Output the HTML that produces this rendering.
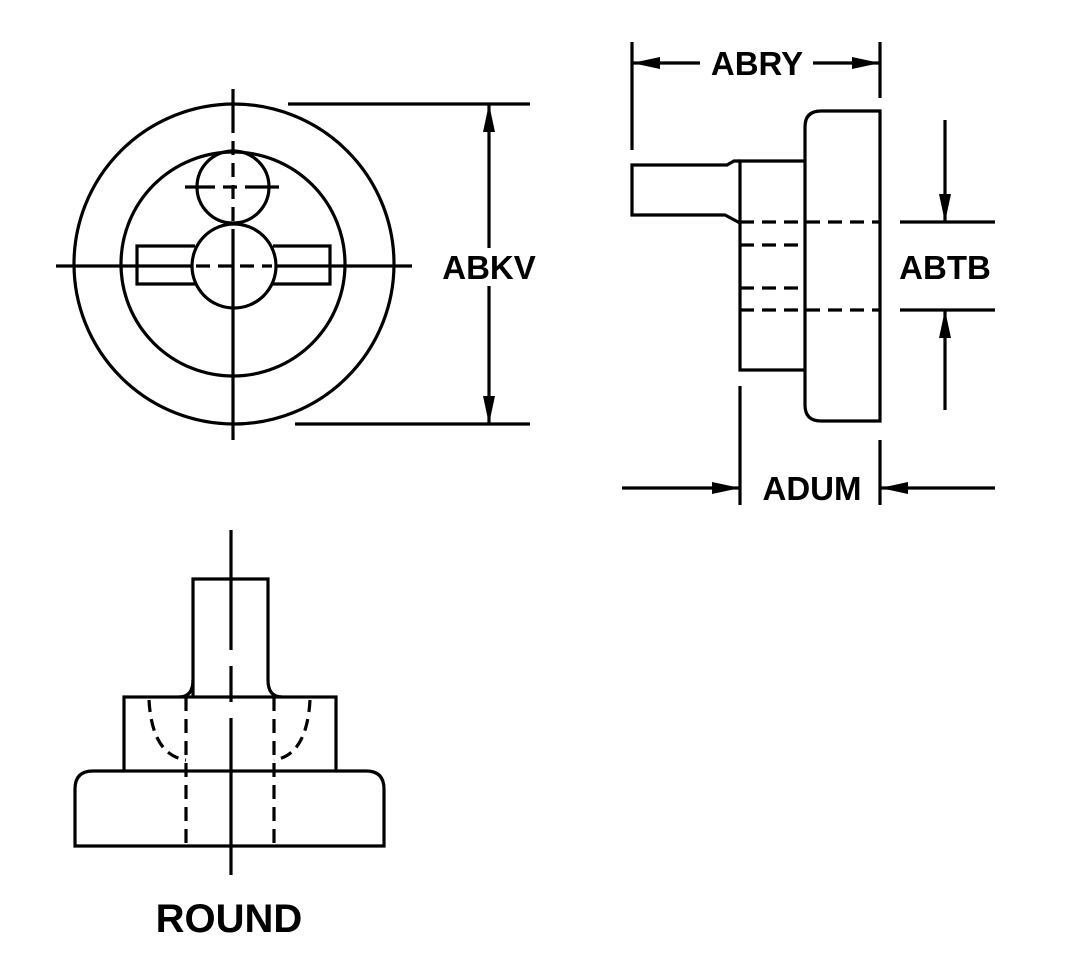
<!DOCTYPE html>
<html><head><style>html,body{margin:0;padding:0;background:#fff}svg{display:block}</style></head>
<body>
<svg width="1069" height="980" viewBox="0 0 1069 980" xmlns="http://www.w3.org/2000/svg">
<defs>
<marker id="ah" viewBox="0 0 28 12" refX="28" refY="6" markerWidth="28" markerHeight="12" markerUnits="userSpaceOnUse" orient="auto">
<path d="M0,0 L28,6 L0,12 Z" fill="#000"/>
</marker>
</defs>
<g fill="none" stroke="#000" stroke-width="3.2">
<circle cx="234" cy="264" r="160"/>
<circle cx="233" cy="264" r="112"/>
<circle cx="233" cy="187" r="36"/>
<path d="M195,246 H137 V284 H195 M273,246 H330 V284 H273"/>
<circle cx="234" cy="266" r="42" fill="#fff"/>
<line x1="56" y1="266" x2="192" y2="266"/>
<line x1="276" y1="266" x2="412" y2="266"/>
<line x1="196" y1="266" x2="272" y2="266" stroke-dasharray="14,8"/>
<line x1="233" y1="89" x2="233" y2="440" stroke-dasharray="44,8,14,8,14,8,14,8,14,8,300"/>
<line x1="185" y1="187" x2="279" y2="187" stroke-dasharray="30,8,14,8,40"/>
<line x1="288" y1="104" x2="530" y2="104"/>
<line x1="295" y1="424" x2="530" y2="424"/>
<line x1="489" y1="250" x2="489" y2="104" marker-end="url(#ah)"/>
<line x1="489" y1="285" x2="489" y2="424" marker-end="url(#ah)"/>
<path d="M880,111 H821 Q805,111 805,127 V405 Q805,421 821,421 H880 Z"/>
<path d="M805,161 H740 V370 H805"/>
<path d="M740,161 L734,161 L727,165 H632 V215 H725 L740,223"/>
<line x1="740" y1="222" x2="880" y2="222" stroke-dasharray="14,8"/>
<line x1="740" y1="310" x2="880" y2="310" stroke-dasharray="14,8"/>
<line x1="740" y1="245" x2="805" y2="245" stroke-dasharray="14,8"/>
<line x1="740" y1="288" x2="805" y2="288" stroke-dasharray="14,8"/>
<line x1="900" y1="222" x2="995" y2="222"/>
<line x1="900" y1="310" x2="995" y2="310"/>
<line x1="632" y1="42" x2="632" y2="150"/>
<line x1="880" y1="42" x2="880" y2="98"/>
<line x1="700" y1="63" x2="632" y2="63" marker-end="url(#ah)"/>
<line x1="813" y1="63" x2="880" y2="63" marker-end="url(#ah)"/>
<line x1="945" y1="120" x2="945" y2="222" marker-end="url(#ah)"/>
<line x1="945" y1="410" x2="945" y2="310" marker-end="url(#ah)"/>
<line x1="740" y1="386" x2="740" y2="505"/>
<line x1="880" y1="440" x2="880" y2="505"/>
<line x1="622" y1="488" x2="740" y2="488" marker-end="url(#ah)"/>
<line x1="995" y1="488" x2="880" y2="488" marker-end="url(#ah)"/>
<path d="M193,697 V579 H268 V680 Q268,697 282,697"/>
<path d="M193,680 Q193,697 179,697"/>
<rect x="124" y="697" width="212" height="74"/>
<path d="M336,771 H366 Q384,771 384,789 V846 H75 V789 Q75,771 93,771 H124"/>
<line x1="186" y1="697" x2="186" y2="846" stroke-dasharray="14,8"/>
<line x1="274" y1="697" x2="274" y2="846" stroke-dasharray="14,8"/>
<path d="M149,700 Q152,755 186,760" stroke-dasharray="12,7"/>
<path d="M310,700 Q307,755 274,760" stroke-dasharray="12,7"/>
<line x1="231" y1="530" x2="231" y2="875" stroke-dasharray="120,16,36,16,200"/>
</g>
<rect x="440" y="248" width="98" height="38" fill="#fff"/>
<g font-family="Liberation Sans, sans-serif" font-weight="bold" font-size="33" text-anchor="middle" fill="#000">
<text x="489" y="279">ABKV</text>
<text x="757" y="75">ABRY</text>
<text x="945" y="279">ABTB</text>
<text x="812" y="500">ADUM</text>
<text x="229" y="932" font-size="40">ROUND</text>
</g>
</svg>
</body></html>
